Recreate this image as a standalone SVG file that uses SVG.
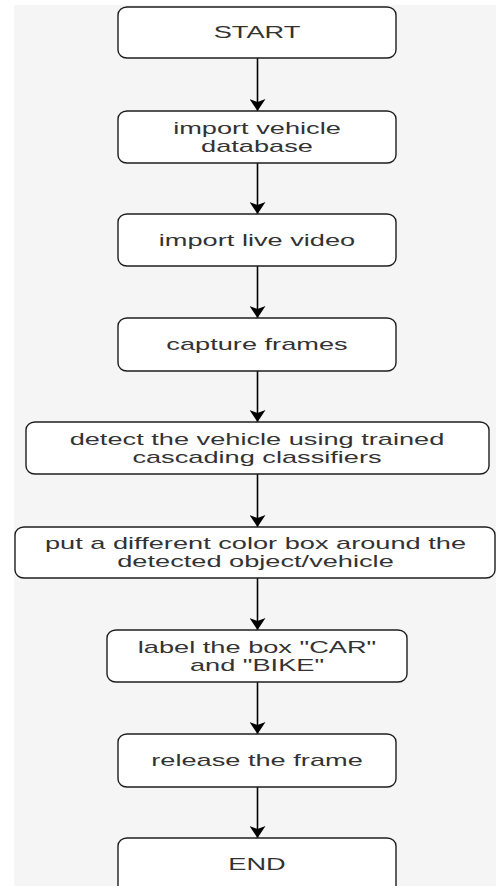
<svg xmlns="http://www.w3.org/2000/svg" width="496" height="886" viewBox="0 0 496 886">
  <style>
    .box { fill: #ffffff; stroke: #1e1e1e; stroke-width: 1.4; }
    .lbl { font-family: "Liberation Sans", Arial, Helvetica, sans-serif; font-size: 16px; fill: #333333; text-anchor: middle; }
    .edge { fill: none; stroke: #000000; stroke-width: 1.6; }
  </style>
  <defs>
    <marker id="arrow" viewBox="0 0 12 16" refX="12" refY="8" markerWidth="12" markerHeight="16" markerUnits="userSpaceOnUse" orient="auto">
      <path d="M0,0 L12,8 L0,16 L3,8 Z" fill="#000000"/>
    </marker>
  </defs>

  <!-- canvas -->
  <rect x="0" y="0" width="496" height="886" fill="#ffffff"/>
  <rect x="14" y="5" width="482" height="881" fill="#f5f5f5"/>

  <!-- connectors -->
  <g id="connectors">
    <path class="edge" d="M257.5,58 V111" marker-end="url(#arrow)"/>
    <path class="edge" d="M257.5,163 V214" marker-end="url(#arrow)"/>
    <path class="edge" d="M257.5,266 V318" marker-end="url(#arrow)"/>
    <path class="edge" d="M257.5,371 V422" marker-end="url(#arrow)"/>
    <path class="edge" d="M257.5,474 V527" marker-end="url(#arrow)"/>
    <path class="edge" d="M257.5,578 V630" marker-end="url(#arrow)"/>
    <path class="edge" d="M257.5,682 V734" marker-end="url(#arrow)"/>
    <path class="edge" d="M257.5,787 V838" marker-end="url(#arrow)"/>
  </g>

  <!-- steps -->
  <g id="start">
    <rect class="box" x="118" y="7" width="278" height="51" rx="9" ry="8"/>
    <text class="lbl" transform="translate(257,38.3) scale(1.7,1)">START</text>
  </g>

  <g id="import-db">
    <rect class="box" x="118" y="111" width="278" height="52" rx="9" ry="8"/>
    <text class="lbl" transform="translate(257,133.6) scale(1.7,1)"><tspan x="0" y="0">import vehicle</tspan><tspan x="0" y="18.3">database</tspan></text>
  </g>

  <g id="import-video">
    <rect class="box" x="118" y="214" width="278" height="52" rx="9" ry="8"/>
    <text class="lbl" transform="translate(257,245.8) scale(1.7,1)">import live video</text>
  </g>

  <g id="capture">
    <rect class="box" x="118" y="318" width="278" height="53" rx="9" ry="8"/>
    <text class="lbl" transform="translate(257,350.3) scale(1.7,1)">capture frames</text>
  </g>

  <g id="detect">
    <rect class="box" x="26" y="422" width="463" height="52" rx="9" ry="8"/>
    <text class="lbl" transform="translate(257,444.6) scale(1.7,1)"><tspan x="0" y="0">detect the vehicle using trained</tspan><tspan x="0" y="18.3">cascading classifiers</tspan></text>
  </g>

  <g id="box-object">
    <rect class="box" x="15" y="527" width="480" height="51" rx="9" ry="8"/>
    <text class="lbl" transform="translate(255.5,549.1) scale(1.7,1)"><tspan x="0" y="0">put a different color box around the</tspan><tspan x="0" y="18.3">detected object/vehicle</tspan></text>
  </g>

  <g id="label-box">
    <rect class="box" x="107" y="630" width="300" height="52" rx="9" ry="8"/>
    <text class="lbl" transform="translate(257,652.6) scale(1.7,1)"><tspan x="0" y="0">label the box "CAR"</tspan><tspan x="0" y="18.3">and "BIKE"</tspan></text>
  </g>

  <g id="release">
    <rect class="box" x="118" y="734" width="278" height="53" rx="9" ry="8"/>
    <text class="lbl" transform="translate(257,766.3) scale(1.7,1)">release the frame</text>
  </g>

  <g id="end">
    <rect class="box" x="118" y="838" width="278" height="60" rx="9" ry="8"/>
    <text class="lbl" transform="translate(257,869.5) scale(1.7,1)">END</text>
  </g>
</svg>
